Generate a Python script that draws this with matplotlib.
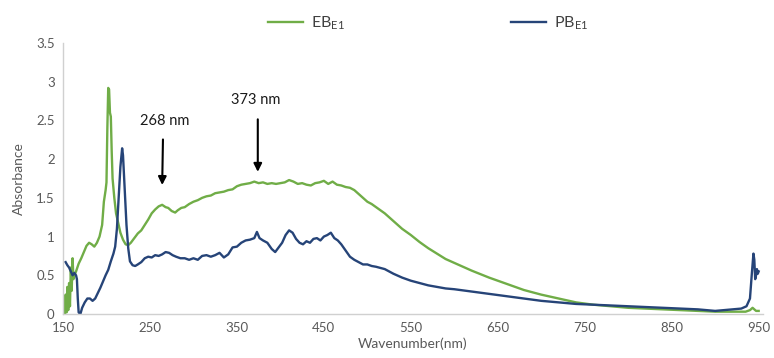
import numpy as np
import matplotlib.pyplot as plt

# ---- datos ----
eb_nm = [152, 153, 154, 155, 156, 157, 158, 159, 160, 161, 162, 163, 165, 168, 171, 174,
         177, 180, 183, 186, 189, 192, 195, 197, 199, 200, 201, 202, 203, 204, 205, 206,
         207, 209, 211, 213, 216, 219, 222, 225, 228, 232, 236, 240, 244, 248, 252, 256,
         260, 264, 268, 271, 275, 279, 282, 286, 290, 295, 300, 305, 310, 315, 320, 325,
         330, 335, 340, 345, 350, 355, 360, 365, 370, 375, 380, 385, 390, 395, 400, 405,
         410, 415, 420, 425, 430, 435, 440, 445, 450, 455, 460, 465, 470, 475, 480, 485,
         490, 495, 500, 505, 510, 520, 530, 540, 550, 560, 570, 580, 590, 600, 620, 640,
         660, 680, 700, 720, 740, 760, 780, 800, 820, 840, 860, 880, 900, 920, 935, 940,
         943, 945, 947, 950]
eb_abs = [0.0, 0.25, 0.02, 0.35, 0.05, 0.4, 0.1, 0.6, 0.3, 0.72, 0.45, 0.5, 0.55, 0.65, 0.72, 0.8,
          0.88, 0.92, 0.9, 0.87, 0.92, 1.0, 1.15, 1.45, 1.6, 1.7, 2.4, 2.92, 2.9, 2.6, 2.55, 2.1,
          1.75, 1.5, 1.3, 1.2, 1.05, 0.96, 0.9, 0.89, 0.92, 0.98, 1.04, 1.08, 1.15, 1.22, 1.3, 1.35,
          1.39, 1.41, 1.38, 1.37, 1.33, 1.31, 1.34, 1.37, 1.38, 1.42, 1.45, 1.47, 1.5, 1.52, 1.53, 1.56,
          1.57, 1.58, 1.6, 1.61, 1.65, 1.67, 1.68, 1.69, 1.71, 1.69, 1.7, 1.68, 1.69, 1.68, 1.69, 1.7,
          1.73, 1.71, 1.68, 1.69, 1.67, 1.66, 1.69, 1.7, 1.72, 1.68, 1.71, 1.67, 1.66, 1.64, 1.63, 1.6,
          1.55, 1.5, 1.45, 1.42, 1.38, 1.3, 1.2, 1.1, 1.02, 0.93, 0.85, 0.78, 0.71, 0.66, 0.56, 0.47,
          0.39, 0.31, 0.25, 0.2, 0.15, 0.12, 0.1, 0.08, 0.07, 0.06, 0.05, 0.04, 0.03, 0.03, 0.03, 0.05,
          0.08, 0.06, 0.04, 0.04]

pb_nm = [153, 155, 157, 159, 161, 163, 165, 166, 167, 168, 170, 172, 175, 178, 181, 184,
         187, 190, 193, 196, 199, 202, 205, 208, 210, 212, 214, 216, 218, 219, 221, 223,
         225, 227, 230, 233, 236, 240, 244, 248, 252, 256, 260, 264, 268, 272, 276, 280,
         285, 290, 295, 300, 305, 310, 315, 320, 325, 330, 335, 340, 345, 350, 355, 360,
         365, 370, 373, 376, 380, 385, 390, 394, 398, 402, 406, 410, 414, 418, 422, 426,
         430, 434, 438, 442, 446, 450, 454, 458, 462, 466, 470, 475, 480, 485, 490, 495,
         500, 505, 510, 520, 530, 540, 550, 560, 570, 580, 590, 600, 620, 640, 660, 680,
         700, 720, 740, 760, 780, 800, 820, 840, 860, 880, 900, 910, 920, 930, 936, 940,
         942, 944, 945, 946, 947, 948, 949, 950]
pb_abs = [0.67, 0.63, 0.6, 0.55, 0.5, 0.53, 0.5, 0.45, 0.2, 0.02, 0.0, 0.08, 0.15, 0.2, 0.2, 0.17,
          0.2, 0.27, 0.34, 0.42, 0.5, 0.57, 0.68, 0.78, 0.87, 1.1, 1.5, 1.9, 2.14, 2.05, 1.6, 1.15,
          0.85, 0.68, 0.63, 0.62, 0.64, 0.67, 0.72, 0.74, 0.73, 0.76, 0.75, 0.77, 0.8, 0.79, 0.76, 0.74,
          0.72, 0.72, 0.7, 0.72, 0.7, 0.75, 0.76, 0.74, 0.76, 0.79, 0.73, 0.77, 0.86, 0.87, 0.92, 0.95,
          0.96, 0.98, 1.06, 0.98, 0.95, 0.92, 0.84, 0.8, 0.86, 0.92, 1.02, 1.08, 1.05, 0.97, 0.92, 0.9,
          0.94, 0.92, 0.97, 0.98, 0.95, 1.0, 1.02, 1.05, 0.98, 0.95, 0.9, 0.82, 0.74, 0.7, 0.67, 0.64,
          0.64, 0.62, 0.61, 0.58, 0.52, 0.47, 0.43, 0.4, 0.37, 0.35, 0.33, 0.32, 0.29, 0.26, 0.23, 0.2,
          0.17, 0.15, 0.13, 0.12, 0.11, 0.1, 0.09, 0.08, 0.07, 0.06, 0.04, 0.05, 0.06, 0.07, 0.1, 0.2,
          0.5, 0.78, 0.7, 0.45, 0.5, 0.58, 0.52, 0.55]

x_ticks = [150, 250, 350, 450, 550, 650, 750, 850, 950]
y_ticks = [0, 0.5, 1, 1.5, 2, 2.5, 3, 3.5]
y_tick_labels = ['0', '0.5', '1', '1.5', '2', '2.5', '3', '3.5']

verde = '#70ad47'
azul = '#264478'
gris = '#595959'

plt.rcParams['font.family'] = ['Lato', 'DejaVu Sans']

fig = plt.figure(figsize=(7.74, 3.58), dpi=100)
ax = fig.add_axes([0.0814, 0.1229, 0.9044, 0.757])

l1, = ax.plot(eb_nm, eb_abs, color=verde, lw=1.7, label=r'$\mathregular{EB_{E1}}$')
l2, = ax.plot(pb_nm, pb_abs, color=azul, lw=1.7, label=r'$\mathregular{PB_{E1}}$')

ax.set_xlim(150, 955)
ax.set_ylim(0, 3.5)
ax.set_xticks(x_ticks)
ax.set_yticks(y_ticks)
ax.set_yticklabels(y_tick_labels)
ax.tick_params(length=0, labelsize=9.5, colors=gris, pad=6)

for s in ['top', 'right']:
    ax.spines[s].set_visible(False)
for s in ['left', 'bottom']:
    ax.spines[s].set_color('#d0d0d0')
    ax.spines[s].set_linewidth(1.0)

ax.set_xlabel('Wavenumber(nm)', fontsize=10, color=gris, labelpad=2)
ax.set_ylabel('Absorbance', fontsize=10, color=gris, labelpad=8)

# flechas y etiquetas de los picos
ax.annotate('', xy=(264, 1.63), xytext=(265, 2.29),
            arrowprops=dict(arrowstyle='-|>', color='black', lw=1.5, mutation_scale=12))
ax.text(267, 2.49, '268 nm', ha='center', va='center', fontsize=10.5, color='#1a1a1a')
ax.annotate('', xy=(374, 1.80), xytext=(374, 2.55),
            arrowprops=dict(arrowstyle='-|>', color='black', lw=1.5, mutation_scale=12))
ax.text(372, 2.77, '373 nm', ha='center', va='center', fontsize=10.5, color='#1a1a1a')

fig.legend(handles=[l1, l2], loc='center', bbox_to_anchor=(0.553, 0.935), ncol=2,
           frameon=False, fontsize=11.5, handlelength=2.2, handletextpad=0.5,
           columnspacing=10.4, labelcolor='#404040')

fig.savefig('out.png', dpi=100)
